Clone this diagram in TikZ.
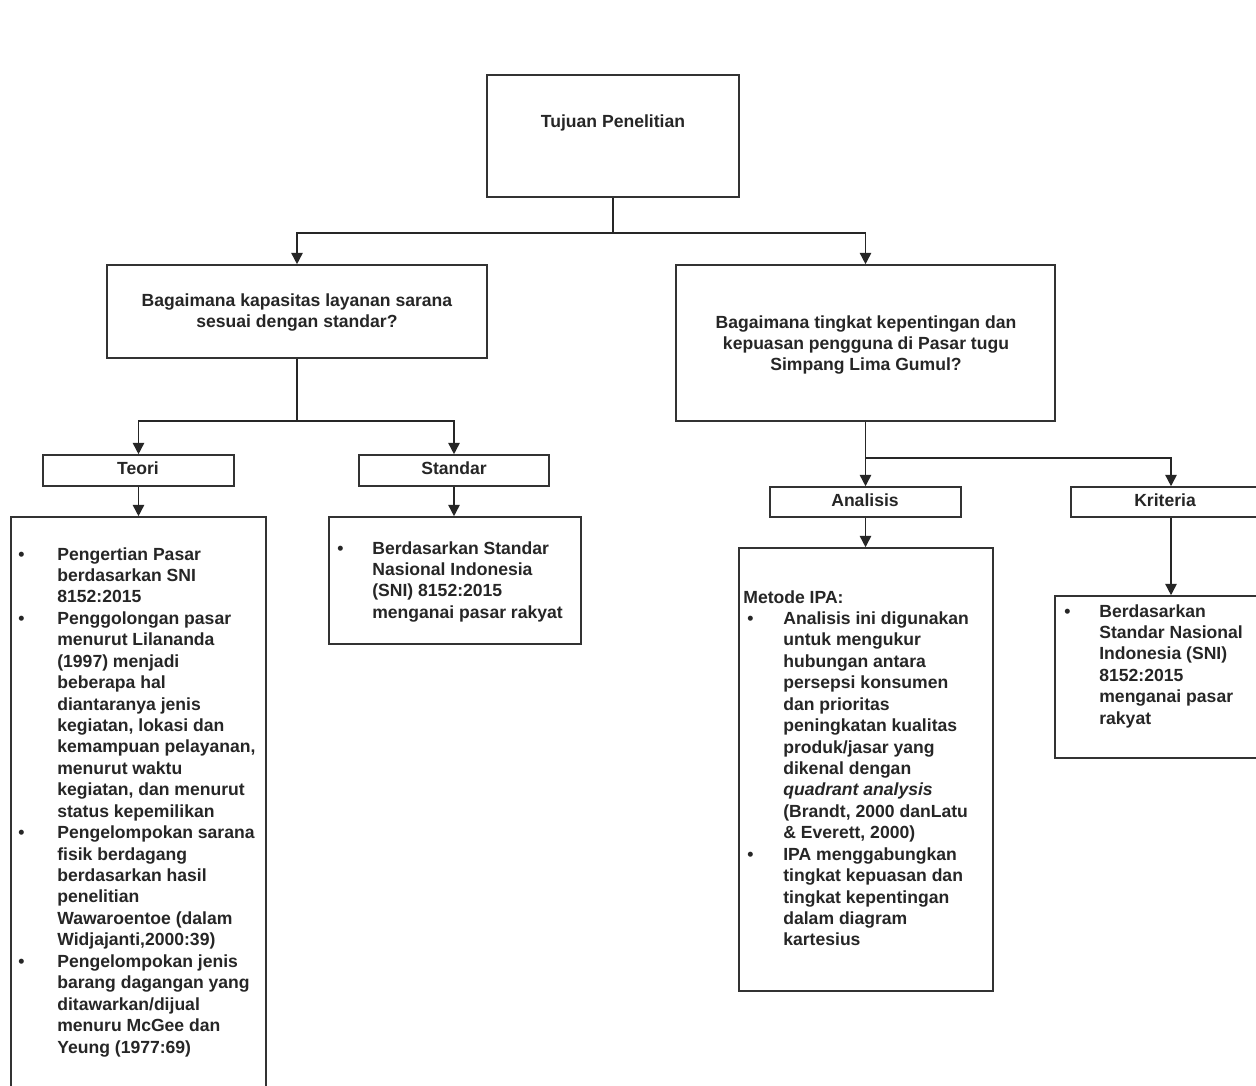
\documentclass[tikz,border=0pt]{standalone}
\usepackage{fontspec}
\setmainfont{Liberation Sans}
\usetikzlibrary{arrows.meta,fit,calc}
\begin{document}
\begin{tikzpicture}[x=0.02cm,y=-0.02cm,
  every node/.style={font=\fontsize{10pt}{12.2pt}\selectfont\bfseries, text=black!85},
  box/.style={draw=black!80, line width=0.9pt, inner sep=0pt},
  conn/.style={draw=black!85, line width=0.9pt},
  arr/.style={conn, -{Triangle[length=6.5pt,width=6.5pt]}},
  txt/.style={anchor=base west, inner sep=0pt},
  ctxt/.style={anchor=base, inner sep=0pt}]
\useasboundingbox (0,0) rectangle (1256,1085);
\fill[white] (0,0) rectangle (1256,1085);
\clip (0,0) rectangle (1256,1085);

% boxes
\node[box, fit={(487,75) (739,197)}] (tujuan) {};
\node[box, fit={(107,265) (487,358)}] (q1) {};
\node[box, fit={(676,265) (1055,421)}] (q2) {};
\node[box, fit={(43,455) (234,486)}] (teori) {};
\node[box, fit={(359,455) (549,486)}] (standar) {};
\node[box, fit={(770,487) (961,517)}] (analisis) {};
\node[box, fit={(1071,487) (1271,517)}] (kriteria) {};
\node[box, fit={(11,517) (266,1100)}] (tbox) {};
\node[box, fit={(329,517) (581,644)}] (sbox) {};
\node[box, fit={(739,548) (993,991)}] (mbox) {};
\node[box, fit={(1055,596) (1287,758)}] (kbox) {};

% box titles
\node[ctxt] (tujuantext) at (613,127) {Tujuan Penelitian};
\node[ctxt] (q1text) at (297,306) {\begin{tabular}[t]{@{}c@{}}Bagaimana kapasitas layanan sarana\\sesuai dengan standar?\end{tabular}};
\node[ctxt] (q2text) at (866,328) {\begin{tabular}[t]{@{}c@{}}Bagaimana tingkat kepentingan dan\\kepuasan pengguna di Pasar tugu\\Simpang Lima Gumul?\end{tabular}};
\node[ctxt] (teorititle) at (138,474) {Teori};
\node[ctxt] (standartitle) at (454,474) {Standar};
\node[ctxt] (analisistitle) at (865,506) {Analisis};
\node[ctxt] (kriteriatitle) at (1165,506) {Kriteria};

% connectors
\coordinate (j1) at ($(tujuan.south)+(0,35)$);
\draw[conn] (tujuan.south) -- (j1);
\draw[arr] (j1) -| (q1.north);
\draw[arr] (j1) -| (q2.north);
\coordinate (j2) at ($(q1.south)+(0,62)$);
\draw[conn] (q1.south) -- (j2);
\draw[arr] (j2) -| (teori.north);
\draw[arr] (j2) -| (standar.north);
\coordinate (j3) at ($(q2.south)+(0,36)$);
\draw[conn] (q2.south) -- (j3);
\draw[arr] (j3) -- (analisis.north);
\draw[arr] (j3) -| (kriteria.north);
\draw[arr] (teori.south) -- (teori.south |- tbox.north);
\draw[arr] (standar.south) -- (standar.south |- sbox.north);
\draw[arr] (analisis.south) -- (analisis.south |- mbox.north);
\draw[arr] (kriteria.south) -- (kriteria.south |- kbox.north);

% texts
\node[txt] (ttext) at (18,560) {\begin{tabular}[t]{@{}p{0.78cm}@{}l@{}}
\textbullet & Pengertian Pasar\\
 & berdasarkan SNI\\
 & 8152:2015\\
\textbullet & Penggolongan pasar\\
 & menurut Lilananda\\
 & (1997) menjadi\\
 & beberapa hal\\
 & diantaranya jenis\\
 & kegiatan, lokasi dan\\
 & kemampuan pelayanan,\\
 & menurut waktu\\
 & kegiatan, dan menurut\\
 & status kepemilikan\\
\textbullet & Pengelompokan sarana\\
 & fisik berdagang\\
 & berdasarkan hasil\\
 & penelitian\\
 & Wawaroentoe (dalam\\
 & Widjajanti,2000:39)\\
\textbullet & Pengelompokan jenis\\
 & barang dagangan yang\\
 & ditawarkan/dijual\\
 & menuru McGee dan\\
 & Yeung (1977:69)
\end{tabular}};

\node[txt] (stext) at (337,554) {\begin{tabular}[t]{@{}p{0.7cm}@{}l@{}}
\textbullet & Berdasarkan Standar\\
 & Nasional Indonesia\\
 & (SNI) 8152:2015\\
 & menganai pasar rakyat
\end{tabular}};

\node[txt] (mtext) at (743,603) {\begin{tabular}[t]{@{}p{0.8cm}@{}l@{}}
\multicolumn{2}{@{}l@{}}{Metode IPA:}\\
\hspace{0.08cm}\textbullet & Analisis ini digunakan\\
 & untuk mengukur\\
 & hubungan antara\\
 & persepsi konsumen\\
 & dan prioritas\\
 & peningkatan kualitas\\
 & produk/jasar yang\\
 & dikenal dengan\\
 & \textit{quadrant analysis}\\
 & (Brandt, 2000 danLatu\\
 & \& Everett, 2000)\\
\hspace{0.08cm}\textbullet & IPA menggabungkan\\
 & tingkat kepuasan dan\\
 & tingkat kepentingan\\
 & dalam diagram\\
 & kartesius
\end{tabular}};

\node[txt] (ktext) at (1064,617) {\begin{tabular}[t]{@{}p{0.7cm}@{}l@{}}
\textbullet & Berdasarkan\\
 & Standar Nasional\\
 & Indonesia (SNI)\\
 & 8152:2015\\
 & menganai pasar\\
 & rakyat
\end{tabular}};
\end{tikzpicture}
\end{document}
